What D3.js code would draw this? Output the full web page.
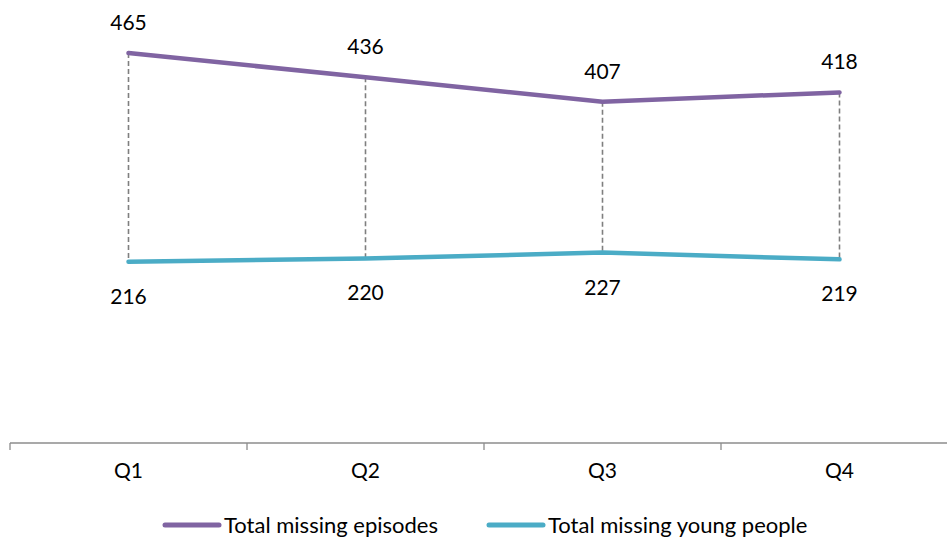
<!DOCTYPE html>
<html>
<head>
<meta charset="utf-8">
<script src="https://cdn.jsdelivr.net/npm/d3@7"></script>
<style>
  html, body { margin: 0; padding: 0; background: #fff; }
  svg text { font-family: "Gill Sans", Lato, "Open Sans", sans-serif; fill: #000; }
</style>
</head>
<body>
<svg id="chart" width="947" height="540"></svg>
<script>
const quarters = ["Q1", "Q2", "Q3", "Q4"];
const missingEpisodes = [465, 436, 407, 418];
const missingYoungPeople = [216, 220, 227, 219];
const seriesNames = ["Total missing episodes", "Total missing young people"];
const seriesColors = ["#8064A2", "#4BACC6"];

const svg = d3.select("#chart");
const margin = { left: 10, right: -11 };
const W = 947;

const x = d3.scaleBand().domain(quarters).range([margin.left, W - margin.right]).paddingInner(0).paddingOuter(0);
const y = d3.scaleLinear().domain([0, 500]).range([443, 443 - 500 * (390 / 465)]);
const cx = q => x(q) + x.bandwidth() / 2;

// category axis
const axisG = svg.append("g").attr("transform", "translate(0,443)");
axisG.append("line").attr("x1", margin.left).attr("x2", W - margin.right)
  .attr("stroke", "#8c8c8c").attr("stroke-width", 1.3);
const tickPositions = quarters.map(q => x(q)).concat([x(quarters[quarters.length - 1]) + x.bandwidth()]);
axisG.selectAll("line.tick").data(tickPositions).join("line")
  .attr("class", "tick")
  .attr("x1", d => d).attr("x2", d => d).attr("y1", 0).attr("y2", 7)
  .attr("stroke", "#8c8c8c").attr("stroke-width", 1.3);
axisG.selectAll("text").data(quarters).join("text")
  .attr("x", d => cx(d)).attr("y", 35)
  .attr("text-anchor", "middle").attr("font-size", 21)
  .text(d => d);

// high-low drop lines
svg.append("g").selectAll("line").data(quarters).join("line")
  .attr("x1", d => cx(d)).attr("x2", d => cx(d))
  .attr("y1", (d, i) => y(missingEpisodes[i]))
  .attr("y2", (d, i) => y(missingYoungPeople[i]))
  .attr("stroke", "#7f7f7f").attr("stroke-width", 1.6)
  .attr("stroke-dasharray", "5,3");

const line = d3.line().x((d, i) => cx(quarters[i])).y(d => y(d));

[missingEpisodes, missingYoungPeople].forEach((vals, s) => {
  svg.append("path").datum(vals)
    .attr("d", line)
    .attr("fill", "none")
    .attr("stroke", seriesColors[s])
    .attr("stroke-width", 4.5)
    .attr("stroke-linejoin", "round")
    .attr("stroke-linecap", "round");
});

// value labels
svg.append("g").selectAll("text").data(missingEpisodes).join("text")
  .attr("x", (d, i) => cx(quarters[i])).attr("y", d => y(d) - 23)
  .attr("text-anchor", "middle").attr("font-size", 21)
  .text(d => d);
svg.append("g").selectAll("text").data(missingYoungPeople).join("text")
  .attr("x", (d, i) => cx(quarters[i])).attr("y", d => y(d) + 42)
  .attr("text-anchor", "middle").attr("font-size", 21)
  .text(d => d);

// legend
const legendX = [165, 489];
const legend = svg.append("g").attr("transform", "translate(0,525)");
seriesNames.forEach((name, s) => {
  legend.append("line")
    .attr("x1", legendX[s]).attr("x2", legendX[s] + 54)
    .attr("y1", 0).attr("y2", 0)
    .attr("stroke", seriesColors[s]).attr("stroke-width", 5)
    .attr("stroke-linecap", "round");
  legend.append("text")
    .attr("x", legendX[s] + 59).attr("y", 7.5)
    .attr("font-size", 22)
    .text(name);
});
</script>
</body>
</html>
